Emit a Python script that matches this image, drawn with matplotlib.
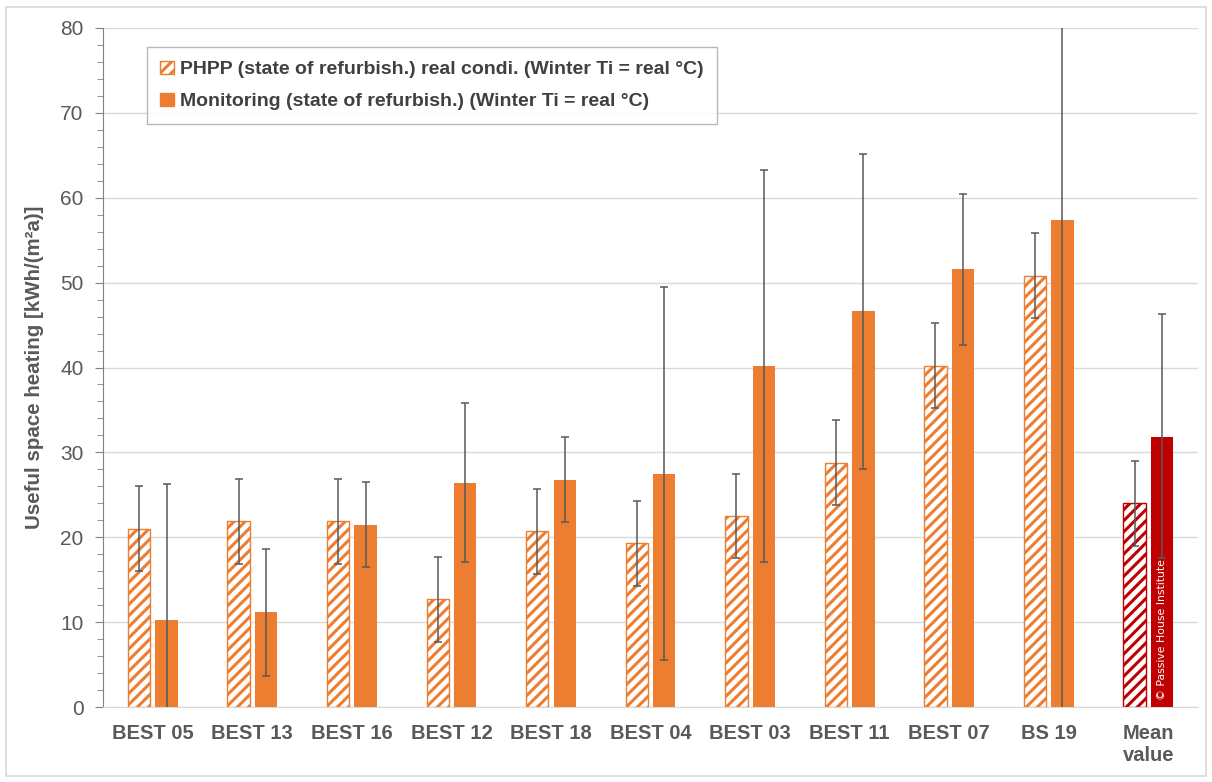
import matplotlib
matplotlib.use("Agg")
import matplotlib.pyplot as plt
import numpy as np
from matplotlib.patches import Patch, Rectangle
from matplotlib.ticker import MultipleLocator

categories = ["BEST 05", "BEST 13", "BEST 16", "BEST 12", "BEST 18", "BEST 04",
              "BEST 03", "BEST 11", "BEST 07", "BS 19", "Mean\nvalue"]
phpp = [21.0, 21.9, 21.9, 12.7, 20.7, 19.3, 22.5, 28.8, 40.2, 50.8, 24.0]
phpp_low = [16.0, 16.9, 16.9, 7.7, 15.7, 14.3, 17.5, 23.8, 35.2, 45.8, 19.0]
phpp_high = [26.0, 26.9, 26.9, 17.7, 25.7, 24.3, 27.5, 33.8, 45.2, 55.9, 29.0]
monit = [10.2, 11.2, 21.5, 26.4, 26.7, 27.5, 40.2, 46.6, 51.6, 57.4, 31.8]
monit_low = [-5.0, 3.7, 16.5, 17.1, 21.8, 5.5, 17.1, 28.0, 42.6, -5.0, 17.6]
monit_high = [26.3, 18.6, 26.5, 35.8, 31.8, 49.5, 63.3, 65.2, 60.5, 95.0, 46.3]

legend_labels = ["PHPP (state of refurbish.) real condi. (Winter Ti = real °C)",
                 "Monitoring (state of refurbish.) (Winter Ti = real °C)"]
ylabel = "Useful space heating [kWh/(m²a)]"
watermark = "© Passive House Institute"

orange = "#ED7D31"
red = "#C00000"
gray = "#595959"

plt.rcParams["font.family"] = ["Liberation Sans", "DejaVu Sans"]
plt.rcParams["hatch.linewidth"] = 2.2

fig = plt.figure(figsize=(12.12, 7.82), dpi=100)
ax = fig.add_axes([0.085, 0.0959, 0.9035, 0.8683])
fig.patches.append(Rectangle((0.005, 0.008), 0.99, 0.983, transform=fig.transFigure,
                             fill=False, edgecolor="#D9D9D9", linewidth=1.2))

x = np.arange(len(categories))
w = 0.225
off = 0.138
n = len(categories)
cols = [orange] * (n - 1) + [red]

for i in range(n):
    ax.bar(x[i] - off, phpp[i], w, facecolor="white", edgecolor=cols[i], hatch="///",
           linewidth=1.0, zorder=2)
    ax.bar(x[i] + off, monit[i], w, color=cols[i], linewidth=0, zorder=2)

p = np.array(phpp); m = np.array(monit)
ax.errorbar(x - off, p, yerr=[p - np.array(phpp_low), np.array(phpp_high) - p],
            fmt="none", ecolor=gray, elinewidth=1.1, capsize=3.2, capthick=1.1, zorder=3)
ax.errorbar(x + off, m, yerr=[m - np.array(monit_low), np.array(monit_high) - m],
            fmt="none", ecolor=gray, elinewidth=1.1, capsize=3.2, capthick=1.1, zorder=3)

ax.text(x[-1] + off, 0.8, watermark, rotation=90, color="white", fontsize=7.8,
        ha="center", va="bottom", zorder=4, family=["DejaVu Sans"])

ax.set_xlim(-0.5, n - 0.5)
ax.set_ylim(0, 80)
ax.yaxis.set_major_locator(MultipleLocator(10))
ax.yaxis.set_minor_locator(MultipleLocator(2))
ax.grid(axis="y", color="#D9D9D9", linewidth=1.0, zorder=0)
ax.set_axisbelow(True)
for s in ["top", "right"]:
    ax.spines[s].set_visible(False)
ax.spines["left"].set_color("#808080")
ax.spines["bottom"].set_color("#D9D9D9")
ax.tick_params(axis="y", which="major", length=6, color="#808080", labelsize=15,
               labelcolor=gray, pad=8)
ax.tick_params(axis="y", which="minor", length=4, color="#808080")
ax.set_xticks(x)
ax.set_xticklabels(categories, fontsize=14.5, fontweight="bold", color=gray,
                   linespacing=1.25)
ax.tick_params(axis="x", length=0, pad=12)
ax.set_ylabel(ylabel, fontsize=14.8, fontweight="bold", color=gray, labelpad=12)

handles = [Patch(facecolor="white", edgecolor=orange, hatch="///", linewidth=1.0),
           Patch(facecolor=orange, edgecolor=orange)]
leg = ax.legend(handles, legend_labels, loc="upper left", bbox_to_anchor=(0.04, 0.972),
                borderaxespad=0, frameon=True, fancybox=False,
                edgecolor="#A6A6A6", handlelength=0.7, handleheight=0.7,
                handletextpad=0.3, labelspacing=0.75, borderpad=0.7,
                prop={"weight": "bold", "size": 14})
for t in leg.get_texts():
    t.set_color("#404040")
leg.get_frame().set_linewidth(1.0)

fig.savefig("out.png", dpi=100)
